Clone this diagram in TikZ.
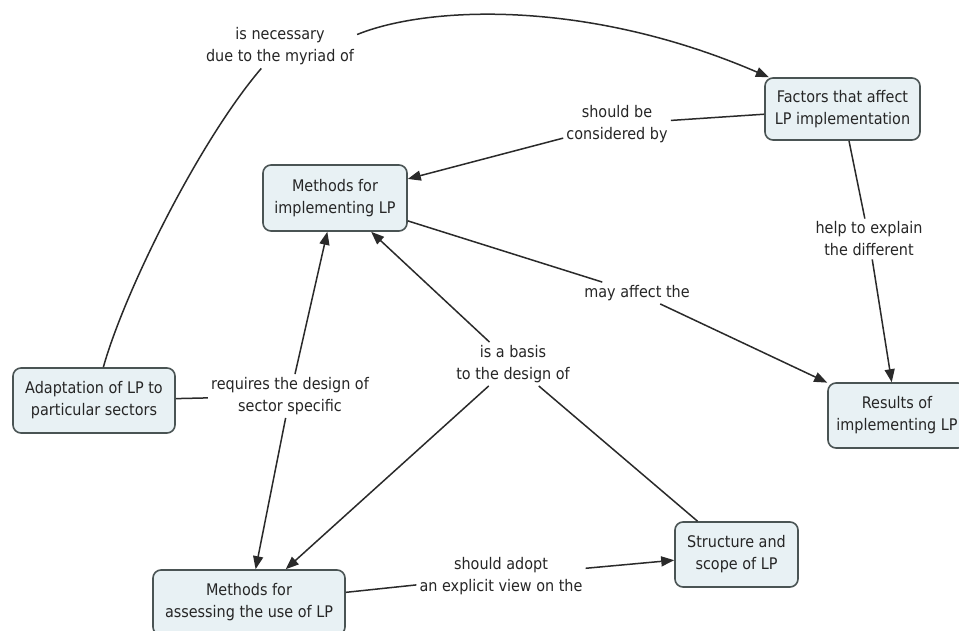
\documentclass[tikz,border=0pt]{standalone}
\usepackage{fontspec}
\setmainfont{DejaVu Sans}[FakeStretch=0.9]
\usetikzlibrary{arrows.meta}
\definecolor{boxfill}{HTML}{E8F1F4}
\definecolor{boxline}{HTML}{4A5454}
\definecolor{txt}{HTML}{262626}
\definecolor{lnk}{HTML}{2A2A2A}
\begin{document}
\begin{tikzpicture}[x=1pt,y=-1pt,
  concept/.style={draw=boxline, line width=1.6pt, fill=boxfill, rounded corners=8pt, align=center, text=txt, font=\fontsize{16}{22}\selectfont, inner sep=2pt},
  linklabel/.style={align=center, text=txt, font=\fontsize{16}{22}\selectfont, inner sep=3pt},
  conn/.style={draw=lnk, line width=1.5pt},
  arr/.style={conn, -{Triangle[length=13pt,width=10pt]}}]
\path[use as bounding box] (0,0) rectangle (959,630);
\clip (0,0) rectangle (959,630);
\fill[white] (0,0) rectangle (959,630);

% concepts
\node[concept, minimum width=155pt, minimum height=62pt] (factors) at (842.5,109) {Factors that affect\\LP implementation};
\node[concept, minimum width=144pt, minimum height=66pt] (mimpl) at (335,198) {Methods for\\implementing LP};
\node[concept, minimum width=162pt, minimum height=65pt] (adapt) at (94,400.5) {Adaptation of LP to\\particular sectors};
\node[concept, minimum width=138pt, minimum height=65pt] (results) at (897,415.5) {Results of\\implementing LP};
\node[concept, minimum width=123pt, minimum height=65pt] (struct) at (736.5,554.5) {Structure and\\scope of LP};
\node[concept, minimum width=192pt, minimum height=65pt] (massess) at (249,602.5) {Methods for\\assessing the use of LP};

% linking phrases
\node[linklabel] (nec) at (280,46.5) {is necessary\\due to the myriad of};
\node[linklabel] (consid) at (617,124) {should be\\considered by};
\node[linklabel] (help) at (869,239) {help to explain\\the different};
\node[linklabel] (affect) at (637,293) {may affect the};
\node[linklabel] (basis) at (513,364) {is a basis\\to the design of};
\node[linklabel] (requires) at (290,396) {requires the design of\\sector specific};
\node[linklabel] (adopt) at (501,576) {should adopt\\an explicit view on the};

% connectors
\draw[conn] (adapt) .. controls (125,290) and (200,140) .. (nec);
\draw[arr] ([yshift=12pt]nec.east) .. controls (430,5) and (590,0) .. (factors);
\draw[conn] (factors) -- (consid);
\draw[arr] (consid) -- (mimpl);
\draw[conn] (factors) -- (help);
\draw[arr] (help) -- (results);
\draw[conn] (mimpl) -- (affect);
\draw[arr] (affect) -- (results);
\draw[arr] (basis) -- (mimpl);
\draw[arr] (basis) -- (massess);
\draw[conn] (struct) -- (basis);
\draw[conn] (adapt) -- (requires);
\draw[arr] (requires) -- (mimpl);
\draw[arr] (requires) -- (massess);
\draw[conn] (massess) -- (adopt);
\draw[arr] (adopt) -- (struct);
\end{tikzpicture}
\end{document}
